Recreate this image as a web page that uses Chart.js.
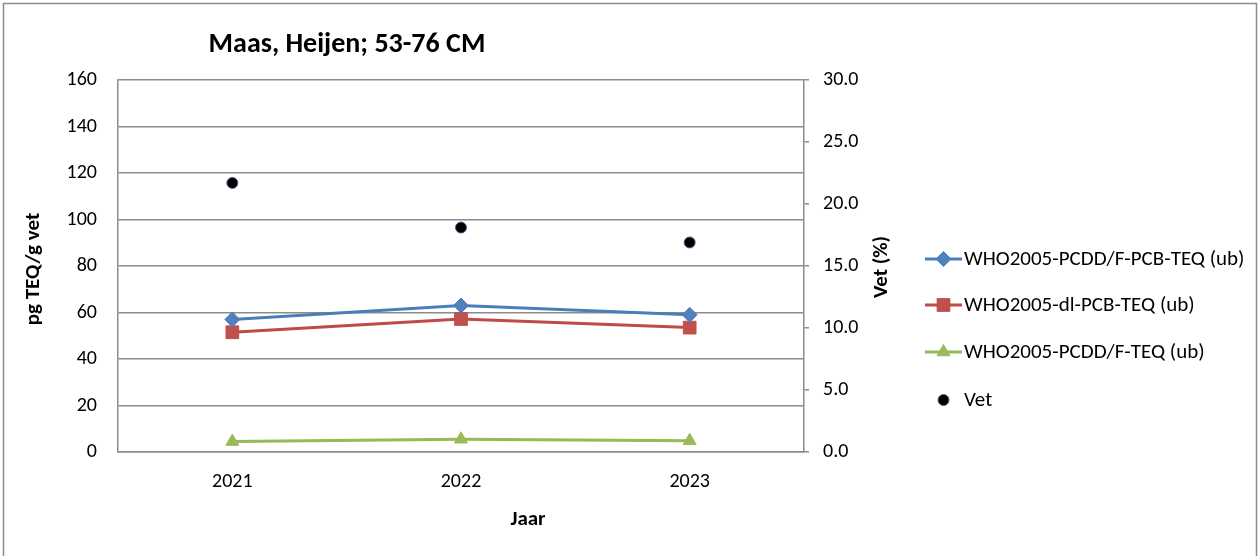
<!DOCTYPE html>
<html>
<head>
<meta charset="utf-8">
<script src="https://cdn.jsdelivr.net/npm/chart.js@4/dist/chart.umd.min.js"></script>
<style>
  html, body { margin: 0; padding: 0; background: #ffffff; }
  #wrap { width: 1258px; height: 556px; }
</style>
</head>
<body>
<div id="wrap"><canvas id="chart" width="1258" height="556"></canvas></div>
<script>
// Sample years
const categories = ['2021', '2022', '2023'];

// TEQ values, pg TEQ/g vet (left axis)
const totalTeq = [57, 63, 59];        // WHO2005-PCDD/F-PCB-TEQ (ub)
const dlPcbTeq = [51.5, 57.2, 53.5];  // WHO2005-dl-PCB-TEQ (ub)
const pcddfTeq = [4.5, 5.5, 4.8];     // WHO2005-PCDD/F-TEQ (ub)

// Fat content, % (right axis)
const fatPct = [21.7, 18.1, 16.9];

// Series labels
const seriesLabels = [
  'WHO2005-PCDD/F-PCB-TEQ (ub)',
  'WHO2005-dl-PCB-TEQ (ub)',
  'WHO2005-PCDD/F-TEQ (ub)',
  'Vet'
];

const chartTitle = 'Maas, Heijen; 53-76 CM';
const xTitle = 'Jaar';
const yTitle = 'pg TEQ/g vet';
const y1Title = 'Vet (%)';

const FONT = 'Carlito, Calibri, Lato, "Open Sans", sans-serif';
const GRID = '#8c8c8c';

// Title, axis titles, legend and frame drawn on the canvas
const decorations = {
  id: 'decorations',
  afterDraw(chart) {
    const ctx = chart.ctx;
    const area = chart.chartArea;
    ctx.save();

    // outer frame
    ctx.strokeStyle = '#8c8c8c';
    ctx.lineWidth = 1.5;
    ctx.strokeRect(3.5, 3.5, 1253, 560);

    ctx.fillStyle = '#000';
    ctx.textBaseline = 'middle';

    // chart title
    ctx.font = 'bold 28px ' + FONT;
    ctx.textAlign = 'center';
    ctx.fillText(chartTitle, 347, 45);

    // x axis title
    ctx.font = 'bold 21px ' + FONT;
    ctx.fillText(xTitle, 528, 520);

    // left axis title
    ctx.save();
    ctx.translate(34, 269);
    ctx.rotate(-Math.PI / 2);
    ctx.fillText(yTitle, 0, 0);
    ctx.restore();

    // right axis title
    ctx.save();
    ctx.translate(882, 267);
    ctx.rotate(-Math.PI / 2);
    ctx.fillText(y1Title, 0, 0);
    ctx.restore();

    // legend
    const lx0 = 925, lx1 = 962, tx = 964;
    const rows = [259, 305, 352, 400];
    ctx.font = '21px ' + FONT;
    ctx.textAlign = 'left';
    chart.data.datasets.forEach((ds, i) => {
      const y = rows[i];
      const cx = (lx0 + lx1) / 2;
      if (ds.showLine !== false) {
        ctx.strokeStyle = ds.borderColor;
        ctx.lineWidth = ds.borderWidth;
        ctx.beginPath();
        ctx.moveTo(lx0, y);
        ctx.lineTo(lx1, y);
        ctx.stroke();
      }
      ctx.fillStyle = ds.pointBackgroundColor;
      ctx.strokeStyle = ds.pointBorderColor;
      ctx.lineWidth = ds.pointBorderWidth;
      Chart.helpers.drawPoint(ctx, {
        pointStyle: ds.pointStyle,
        radius: ds.pointRadius,
        borderWidth: ds.pointBorderWidth
      }, cx, y);
      ctx.fillStyle = '#000';
      ctx.fillText(ds.label, tx, y + 1);
    });

    ctx.restore();
  }
};

new Chart(document.getElementById('chart'), {
  type: 'line',
  data: {
    labels: categories,
    datasets: [
      {
        label: seriesLabels[0],
        data: totalTeq,
        yAxisID: 'y',
        borderColor: '#4a7ebb',
        borderWidth: 3,
        pointStyle: 'rectRot',
        pointRadius: 7.5,
        pointBackgroundColor: '#4f81bd',
        pointBorderColor: '#4f81bd',
        pointBorderWidth: 1,
        tension: 0
      },
      {
        label: seriesLabels[1],
        data: dlPcbTeq,
        yAxisID: 'y',
        borderColor: '#be4b48',
        borderWidth: 3,
        pointStyle: 'rect',
        pointRadius: 9,
        pointBackgroundColor: '#c0504d',
        pointBorderColor: '#c0504d',
        pointBorderWidth: 1,
        tension: 0
      },
      {
        label: seriesLabels[2],
        data: pcddfTeq,
        yAxisID: 'y',
        borderColor: '#98b954',
        borderWidth: 3,
        pointStyle: 'triangle',
        pointRadius: 7.5,
        pointBackgroundColor: '#9bbb59',
        pointBorderColor: '#9bbb59',
        pointBorderWidth: 1,
        tension: 0
      },
      {
        label: seriesLabels[3],
        data: fatPct,
        yAxisID: 'y1',
        showLine: false,
        borderColor: '#000000',
        borderWidth: 0,
        pointStyle: 'circle',
        pointRadius: 5.5,
        pointBackgroundColor: '#000000',
        pointBorderColor: '#6a4c9c',
        pointBorderWidth: 1
      }
    ]
  },
  options: {
    responsive: false,
    animation: false,
    layout: { padding: { top: 80, left: 0, right: 0, bottom: 0 } },
    plugins: {
      legend: { display: false },
      title: { display: false },
      tooltip: { enabled: false }
    },
    scales: {
      x: {
        type: 'category',
        offset: true,
        grid: { display: false, drawTicks: false },
        border: { display: true, color: GRID, width: 1.5 },
        ticks: { color: '#000', font: { family: FONT, size: 20 }, padding: 18 },
        afterFit(scale) { scale.height = 104; }
      },
      y: {
        position: 'left',
        min: 0,
        max: 160,
        ticks: {
          stepSize: 20,
          color: '#000',
          font: { family: FONT, size: 20 },
          padding: 21
        },
        grid: { color: GRID, lineWidth: 1.5, drawTicks: false },
        border: { display: true, color: GRID, width: 1.5 },
        afterFit(scale) { scale.width = 118; }
      },
      y1: {
        position: 'right',
        min: 0,
        max: 30,
        ticks: {
          stepSize: 5,
          color: '#000',
          font: { family: FONT, size: 20 },
          padding: 14,
          callback: (v) => Number(v).toFixed(1)
        },
        grid: {
          drawOnChartArea: false,
          drawTicks: true,
          tickLength: 5,
          tickColor: GRID,
          lineWidth: 1.5
        },
        border: { display: true, color: GRID, width: 1.5 },
        afterFit(scale) { scale.width = 454; }
      }
    }
  },
  plugins: [decorations]
});
</script>
</body>
</html>
